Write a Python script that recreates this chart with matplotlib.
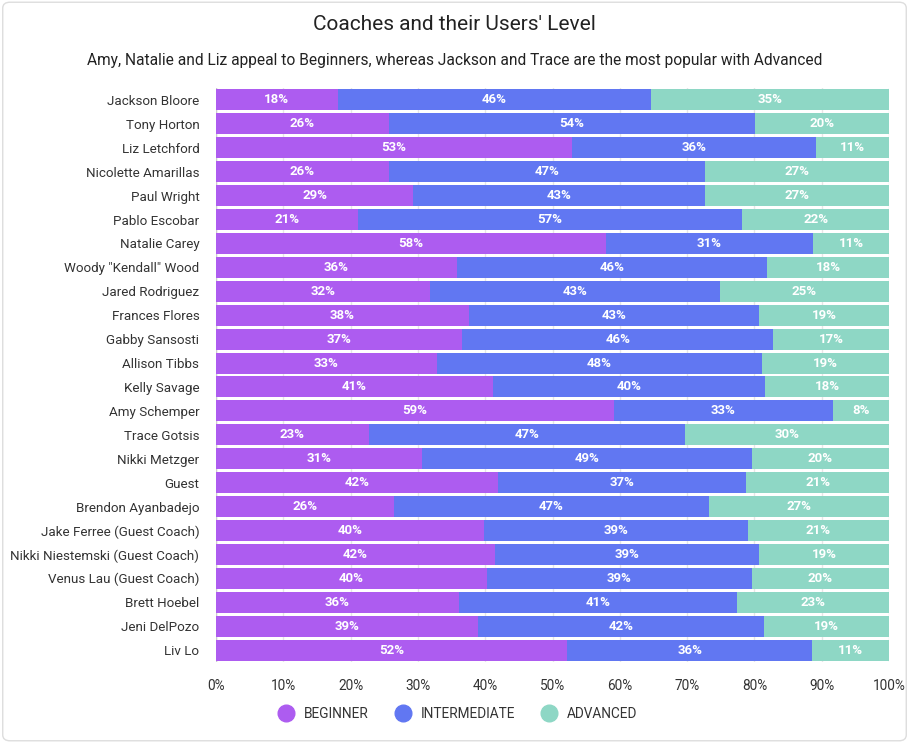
import matplotlib.pyplot as plt
from matplotlib.patches import FancyBboxPatch
from matplotlib.lines import Line2D

plt.rcParams['font.family'] = ['Roboto', 'DejaVu Sans']

coaches = ["Jackson Bloore", "Tony Horton", "Liz Letchford", "Nicolette Amarillas",
           "Paul Wright", "Pablo Escobar", "Natalie Carey", 'Woody "Kendall" Wood',
           "Jared Rodriguez", "Frances Flores", "Gabby Sansosti", "Allison Tibbs",
           "Kelly Savage", "Amy Schemper", "Trace Gotsis", "Nikki Metzger", "Guest",
           "Brendon Ayanbadejo", "Jake Ferree (Guest Coach)",
           "Nikki Niestemski (Guest Coach)", "Venus Lau (Guest Coach)",
           "Brett Hoebel", "Jeni DelPozo", "Liv Lo"]
beginner = [18.1, 25.7, 52.9, 25.7, 29.3, 21.1, 57.9, 35.8, 31.8, 37.6, 36.6, 32.8,
            41.1, 59.1, 22.7, 30.6, 41.9, 26.4, 39.8, 41.5, 40.3, 36.1, 38.9, 52.2]
intermediate = [46.5, 54.4, 36.3, 47.0, 43.4, 57.1, 30.8, 46.1, 43.1, 43.1, 46.2, 48.3,
                40.5, 32.6, 47.0, 49.0, 36.9, 46.9, 39.2, 39.2, 39.3, 41.3, 42.5, 36.4]
advanced = [35.4, 19.9, 10.8, 27.3, 27.3, 21.8, 11.3, 18.1, 25.1, 19.3, 17.2, 18.9,
            18.4, 8.3, 30.3, 20.4, 21.2, 26.7, 21.0, 19.3, 20.4, 22.6, 18.6, 11.4]
series_names = ["BEGINNER", "INTERMEDIATE", "ADVANCED"]
colors = ["#ad5cf0", "#6177f2", "#8ed7c5"]

fig = plt.figure(figsize=(9.09, 7.43), dpi=100)
fig.patches.append(FancyBboxPatch((0.003, 0.003), 0.994, 0.994,
                                  boxstyle="round,pad=0,rounding_size=0.008",
                                  transform=fig.transFigure, fc="white",
                                  ec="#dddddd", lw=1, zorder=-10))
ax = fig.add_axes([216 / 909, 1 - 662 / 743, 673 / 909, 574 / 743])

y = list(range(len(coaches)))
left = [0] * len(coaches)
for vals, name, col in zip([beginner, intermediate, advanced], series_names, colors):
    bars = ax.barh(y, vals, left=left, height=0.88, color=col, label=name,
                   linewidth=0, zorder=2)
    for b, v in zip(bars, vals):
        ax.text(b.get_x() + b.get_width() / 2, b.get_y() + b.get_height() / 2,
                f"{round(v):.0f}%", ha="center", va="center", color="white",
                fontsize=9.5, fontweight="bold", zorder=3)
    left = [l + v for l, v in zip(left, vals)]

ax.set_xlim(0, 100)
ax.set_ylim(len(coaches) - 0.5, -0.5)
ax.set_yticks(y)
ax.set_yticklabels(coaches, fontsize=9.6, color="#333333")
ax.set_xticks(range(0, 101, 10))
ax.set_xticklabels([f"{t}%" for t in range(0, 101, 10)], fontsize=9.8, color="#333333")
ax.tick_params(length=0, pad=12)
ax.tick_params(axis="x", pad=12)
ax.grid(axis="x", color="#e6e6e6", lw=1, zorder=0)
ax.set_axisbelow(True)
for s in ax.spines.values():
    s.set_visible(False)
ax.axvline(0, color="#cccccc", lw=1, zorder=1)

fig.text(0.5, 1 - 25 / 743, "Coaches and their Users' Level", ha="center", va="center",
         fontsize=15, color="#222222")
fig.text(0.5, 1 - 61 / 743, "Amy, Natalie and Liz appeal to Beginners, whereas Jackson "
         "and Trace are the most popular with Advanced", ha="center", va="center",
         fontsize=11.2, color="#222222")

handles = [Line2D([], [], marker="o", ls="", ms=12, color=c) for c in colors]
fig.legend(handles, series_names, loc="center", bbox_to_anchor=(455 / 909, 1 - 714 / 743),
           ncol=3, frameon=False, fontsize=9.8, handletextpad=0.3, columnspacing=1.5,
           labelcolor="#333333")

fig.savefig("out.png", dpi=100)
